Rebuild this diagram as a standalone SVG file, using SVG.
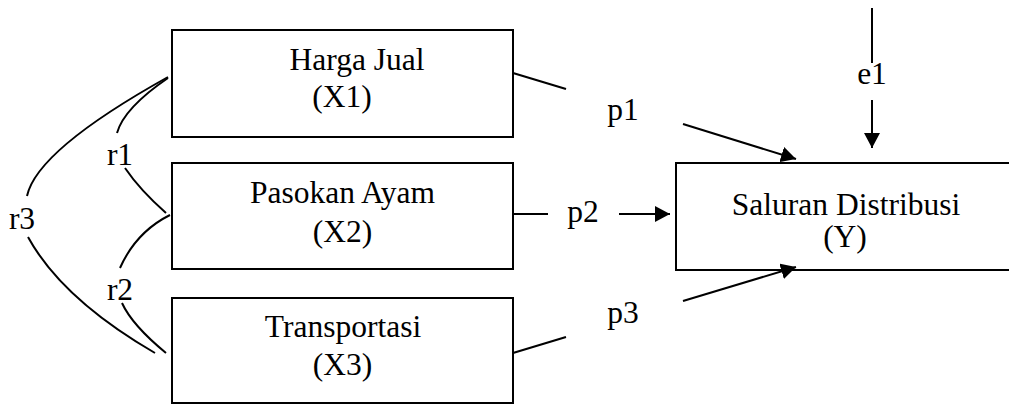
<svg xmlns="http://www.w3.org/2000/svg" width="1009" height="406" viewBox="0 0 1009 406">
<style>
.box{fill:#fff;stroke:#000;stroke-width:2}
.t{font-family:"Liberation Serif","Times New Roman","DejaVu Serif",serif;font-size:31.5px;fill:#000;text-anchor:middle}
.c{fill:none;stroke:#000;stroke-width:2}
</style>
<defs>
<marker id="ah" viewBox="0 0 15 16" refX="15" refY="8" markerWidth="15" markerHeight="16" markerUnits="userSpaceOnUse" orient="auto">
<path d="M0,0 L15,8 L0,16 Z" fill="#000"/>
</marker>
</defs>
<rect width="1009" height="406" fill="#fff"/>
<g id="x1">
<rect class="box" x="172" y="30" width="341" height="107"/>
<text class="t" x="357" y="70" font-family="Liberation Serif, serif">Harga Jual</text>
<text class="t" x="342" y="107" font-family="Liberation Serif, serif">(X1)</text>
</g>
<g id="x2">
<rect class="box" x="172" y="163" width="341" height="106"/>
<text class="t" x="342.5" y="203" font-family="Liberation Serif, serif">Pasokan Ayam</text>
<text class="t" x="342.5" y="242" font-family="Liberation Serif, serif">(X2)</text>
</g>
<g id="x3">
<rect class="box" x="172" y="298" width="341" height="105"/>
<text class="t" x="343" y="337" font-family="Liberation Serif, serif">Transportasi</text>
<text class="t" x="342.5" y="375" font-family="Liberation Serif, serif">(X3)</text>
</g>
<g id="y">
<rect class="box" x="676" y="163" width="345" height="107"/>
<text class="t" x="846" y="215" font-family="Liberation Serif, serif">Saluran Distribusi</text>
<text class="t" x="845" y="247" font-family="Liberation Serif, serif">(Y)</text>
</g>
<g id="connectors">
<line class="c" x1="513" y1="73" x2="566" y2="89"/>
<line class="c" x1="683" y1="124" x2="796" y2="159" marker-end="url(#ah)"/>
<line class="c" x1="513" y1="214" x2="548" y2="214"/>
<line class="c" x1="619" y1="214" x2="670" y2="214" marker-end="url(#ah)"/>
<line class="c" x1="513" y1="353" x2="566" y2="337"/>
<line class="c" x1="683" y1="301" x2="796" y2="267" marker-end="url(#ah)"/>
<line class="c" x1="872" y1="8" x2="872" y2="63"/>
<line class="c" x1="872" y1="100" x2="872" y2="148" marker-end="url(#ah)"/>
<path class="c" d="M168,77 Q37,150 27,196"/>
<path class="c" d="M28,237 Q62,299 155,353"/>
<path class="c" d="M168,78 Q124,108 117,133"/>
<path class="c" d="M125,168 Q140,190 166,213"/>
<path class="c" d="M170,215 Q136,232 120,268"/>
<path class="c" d="M122,303 Q132,325 166,353"/>
</g>
<g id="labels">
<text class="t" x="623" y="120" font-family="Liberation Serif, serif">p1</text>
<text class="t" x="583" y="222" font-family="Liberation Serif, serif">p2</text>
<text class="t" x="623" y="323" font-family="Liberation Serif, serif">p3</text>
<text class="t" x="872" y="84" font-family="Liberation Serif, serif">e1</text>
<text class="t" x="120" y="165" font-family="Liberation Serif, serif">r1</text>
<text class="t" x="120" y="300" font-family="Liberation Serif, serif">r2</text>
<text class="t" x="22" y="229" font-family="Liberation Serif, serif">r3</text>
</g>
</svg>
